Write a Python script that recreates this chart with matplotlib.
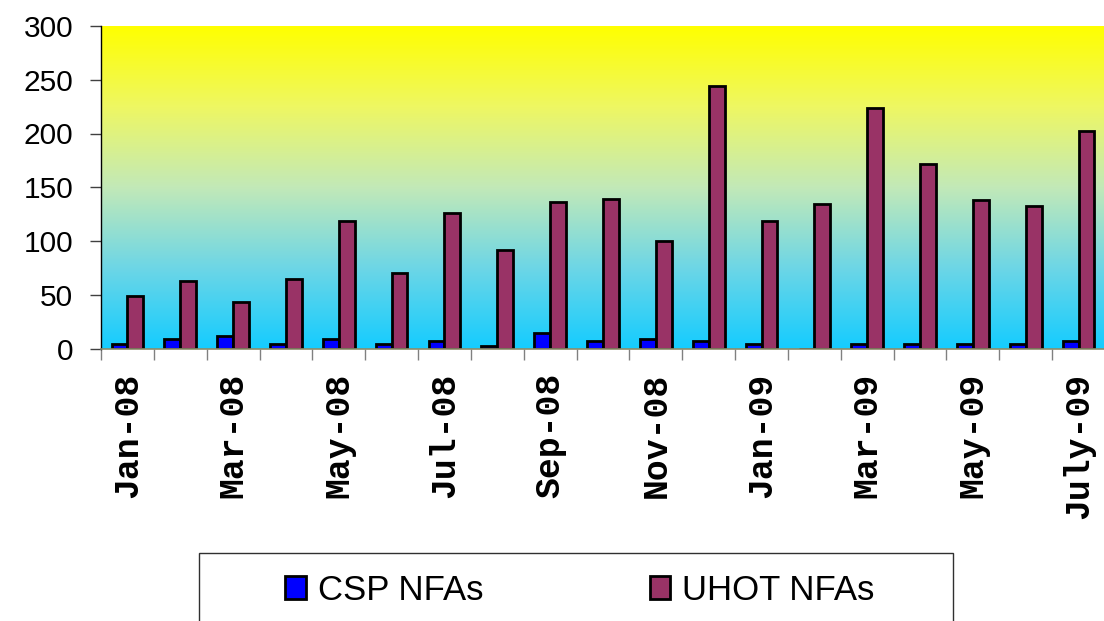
"""
CSP vs UHOT NFAs per month, bar chart with a gradient plot area
"""

import numpy as np
import matplotlib
matplotlib.use('Agg')
import matplotlib.pyplot as plt  # pylint: disable=wrong-import-position
from matplotlib.colors import LinearSegmentedColormap  # pylint: disable=wrong-import-position
from matplotlib.patches import Rectangle  # pylint: disable=wrong-import-position

# Data
months = ['Jan-08', 'Feb-08', 'Mar-08', 'Apr-08', 'May-08', 'Jun-08', 'Jul-08',
          'Aug-08', 'Sep-08', 'Oct-08', 'Nov-08', 'Dec-08', 'Jan-09', 'Feb-09',
          'Mar-09', 'Apr-09', 'May-09', 'Jun-09', 'July-09']
csp_nfas = [4, 9, 12, 4, 9, 4, 7, 2, 14, 7, 9, 7, 4, 0, 4, 4, 4, 4, 7]
uhot_nfas = [49, 63, 43, 65, 119, 70, 126, 92, 136, 139, 100, 244, 119, 134,
             224, 172, 138, 133, 202]
y_ticks = [0, 50, 100, 150, 200, 250, 300]

W, H = 1104, 621
fig = plt.figure(figsize=(W / 100, H / 100), dpi=100)
ax = fig.add_axes([101 / W, 1 - 348.5 / H, 1004 / W, 322.5 / H])

# Gradient background: yellow at the top, cyan at the bottom
grad = LinearSegmentedColormap.from_list(
    'bg', [(0.0, '#14ccff'), (0.25, '#6dd6e6'), (0.5, '#c2e9b8'),
           (0.75, '#eef763'), (1.0, '#ffff00')])
ax.imshow(np.linspace(0, 1, 256).reshape(-1, 1), cmap=grad, origin='lower',
          aspect='auto', extent=(-0.5, len(months) - 0.5, 0, 300), zorder=0)

x = np.arange(len(months))
bw = 0.3
ax.bar(x - bw, csp_nfas, width=bw, align='edge', color='#0000ff',
       edgecolor='black', linewidth=2.0, label='CSP NFAs', zorder=2)
ax.bar(x, uhot_nfas, width=bw, align='edge', color='#993366',
       edgecolor='black', linewidth=2.0, label='UHOT NFAs', zorder=2)

ax.set_xlim(-0.5, len(months) - 0.5)
ax.set_ylim(0, 300)

# y axis
ax.set_yticks(y_ticks)
ax.set_yticklabels([str(v) for v in y_ticks], family='Liberation Sans', fontsize=21.5)
ax.tick_params(axis='y', length=8, width=1, color='#404040', pad=12)

# x axis: ticks between months, labels on every other month
ax.set_xticks(np.arange(len(months) + 1) - 0.5)
ax.set_xticklabels([])
ax.tick_params(axis='x', length=8, width=1, color='#808080')
for i, m in enumerate(months):
    if i % 2 == 0:
        ax.text(i, -23, m, rotation=90, ha='center', va='top',
                family='Liberation Mono', fontweight='bold', fontsize=25,
                transform=ax.transData, clip_on=False)

for side in ['top', 'right']:
    ax.spines[side].set_visible(False)
ax.spines['left'].set_color('black')
ax.spines['left'].set_linewidth(1)
ax.spines['bottom'].set_color('#8c8c6a')
ax.spines['bottom'].set_linewidth(1.2)

# Legend box, bottom runs off the picture
fig.patches.append(Rectangle((199 / W, -0.02), 754 / W, 0.02 + 68 / H,
                             transform=fig.transFigure, facecolor='white',
                             edgecolor='#303030', linewidth=1))
fig.legend(loc='center', bbox_to_anchor=(580 / W, 1 - 590 / H), ncol=2,
           frameon=False, prop={'family': 'Liberation Sans', 'size': 25},
           handlelength=0.58, handleheight=0.62, handletextpad=0.35,
           columnspacing=4.8)

fig.savefig('out.png', dpi=100)
plt.close(fig)
